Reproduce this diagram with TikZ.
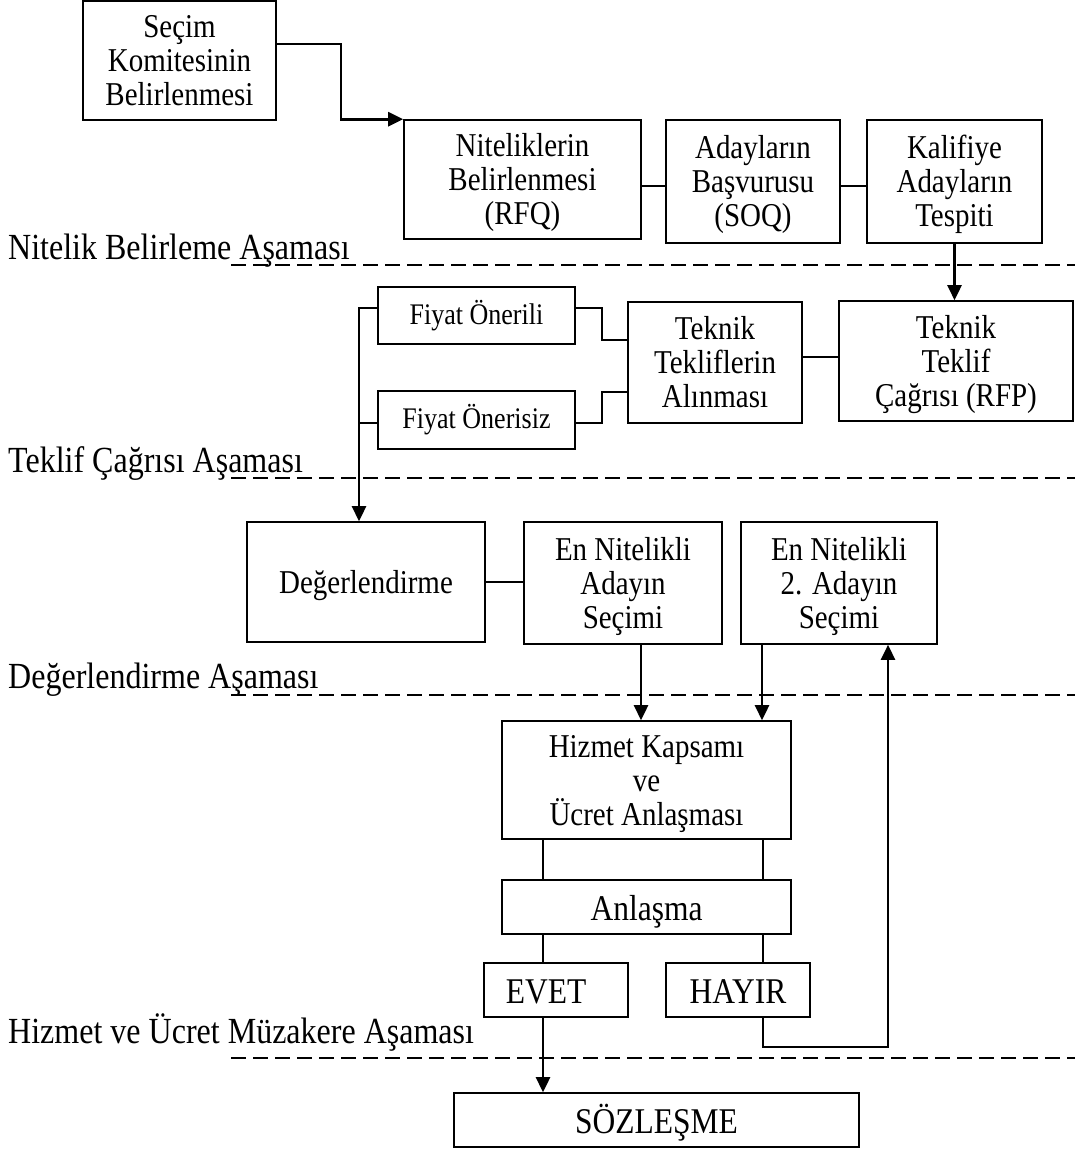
\documentclass[tikz,border=0pt]{standalone}
\usepackage{fontspec}
\setmainfont{Liberation Serif}[FakeStretch=0.87]
\usetikzlibrary{arrows.meta}
\newcommand\tstr{\rule{0pt}{30pt}}
\newcommand\bstr{\rule[-8pt]{0pt}{8pt}}
\newcommand\tbig{\rule{0pt}{34pt}}
\begin{document}
\begin{tikzpicture}[x=1pt,y=-1pt,
  box/.style={draw, line width=1.6pt, inner sep=0pt, align=center, font=\fontsize{33.3}{34}\selectfont},
  smallbox/.style={box, font=\fontsize{29.9}{30}\selectfont},
  bigbox/.style={box, font=\fontsize{36.2}{36}\selectfont},
  lnthin/.style={line width=1.6pt},
  lnmed/.style={line width=2pt},
  lnthick/.style={line width=2.6pt},
  arr/.style={lnthick, -{Triangle[length=15pt,width=14pt]}},
  phase/.style={dash pattern=on 15pt off 7pt, line width=2pt},
  lbl/.style={anchor=base west, inner sep=0pt, font=\fontsize{36.8}{38}\selectfont}
]
\useasboundingbox (0,0) rectangle (1075,1149);

% phase separators
\foreach \yy in {265,478,695,1058} \draw[phase] (231,\yy) -- (1075,\yy);

% phase labels
\node[lbl] (l1) at (8,259) {Nitelik Belirleme Aşaması};
\node[lbl] (l2) at (8,472) {Teklif Çağrısı Aşaması};
\node[lbl] (l3) at (8,688) {Değerlendirme Aşaması};
\node[lbl] (l4) at (8,1043) {Hizmet ve Ücret Müzakere Aşaması};

% boxes
\node[box, minimum width=193pt, minimum height=119pt] (A) at (179.5,60.5) {\tstr Seçim\\Komitesinin\\Belirlenmesi\bstr};
\node[box, minimum width=237pt, minimum height=119pt] (B) at (522.5,179.5) {\tstr Niteliklerin\\Belirlenmesi\\(RFQ)\bstr};
\node[box, minimum width=174pt, minimum height=123pt] (C) at (753,181.5) {\tstr Adayların\\Başvurusu\\(SOQ)\bstr};
\node[box, minimum width=175pt, minimum height=123pt] (D) at (954.5,181.5) {\tstr Kalifiye\\Adayların\\Tespiti\bstr};
\node[box, minimum width=234pt, minimum height=120pt] (E) at (956,361) {\tstr Teknik\\Teklif\\Çağrısı (RFP)\bstr};
\node[box, minimum width=174pt, minimum height=121pt] (F) at (715,362.5) {\tstr Teknik\\Tekliflerin\\Alınması\bstr};
\node[smallbox, minimum width=197pt, minimum height=57pt] (G) at (476.5,315.5) {Fiyat Önerili};
\node[smallbox, minimum width=197pt, minimum height=58pt] (H) at (476.5,420) {Fiyat Önerisiz};
\node[box, minimum width=238pt, minimum height=120pt] (N) at (366,582) {\tstr Değerlendirme\bstr};
\node[box, minimum width=198pt, minimum height=122pt] (O) at (623,583) {\tstr En Nitelikli\\Adayın\\Seçimi\bstr};
\node[box, minimum width=196pt, minimum height=122pt] (P) at (839,583) {\tstr En Nitelikli\\2. Adayın\\Seçimi\bstr};
\node[box, minimum width=289pt, minimum height=118pt] (I) at (646.5,780) {\tstr Hizmet Kapsamı\\ve\\Ücret Anlaşması\bstr};
\node[bigbox, minimum width=289pt, minimum height=54pt] (J) at (646.5,907) {\tbig Anlaşma\bstr};
\node[bigbox, minimum width=144pt, minimum height=54pt] (K) at (556,990) {\tbig EVET\kern20pt\bstr};
\node[bigbox, minimum width=144pt, minimum height=54pt] (L) at (738,990) {\tbig HAYIR\bstr};
\node[bigbox, minimum width=405pt, minimum height=54pt] (M) at (656.5,1120) {\tbig SÖZLEŞME\bstr};

% helper coordinates
\coordinate (a1) at ([yshift=16.5pt]A.east);
\coordinate (b1) at ([yshift=-6.5pt]B.east);
\coordinate (c1) at ([yshift=-4.5pt]C.east);
\coordinate (f1) at ([yshift=5.5pt]F.east);
\coordinate (g1) at ([yshift=7.5pt]G.east);
\coordinate (h1) at ([yshift=-3pt]H.east);
\coordinate (f2) at ([yshift=22.5pt]F.west);
\coordinate (f3) at ([yshift=-29.5pt]F.west);
\coordinate (g2) at ([yshift=7.5pt]G.west);
\coordinate (h2) at ([yshift=-3pt]H.west);
\coordinate (vx) at (359,0);
\coordinate (o1) at ([xshift=18pt]O.south);
\coordinate (p1) at ([xshift=-77pt]P.south);
\coordinate (p2) at ([xshift=49pt]P.south);
\coordinate (i1) at ([xshift=-103.5pt]I.south);
\coordinate (i2) at ([xshift=116.5pt]I.south);
\coordinate (k1) at ([xshift=-13pt]K.north);
\coordinate (k2) at ([xshift=-13pt]K.south);
\coordinate (l5) at ([xshift=25pt]L.north);
\coordinate (l6) at ([xshift=25pt]L.south);

% connectors
\draw[arr] (a1) -- ++(64,0) |- (B.north west);
\draw[lnthin] (b1) -- (b1 -| C.west);
\draw[lnthin] (c1) -- (c1 -| D.west);
\draw[arr] (D.south) -- (D.south |- E.north);
\draw[lnmed] (f1) -- (f1 -| E.west);
\draw[lnmed] (g1) -- ++(26,0) |- (f2);
\draw[lnmed] (h1) -- ++(26,0) |- (f3);
\draw[arr] (g2) -| (N.north -| vx);
\draw[lnthick] (h2) -- (h2 -| vx);
\draw[lnmed] (N.east) -- (N.east -| O.west);
\draw[arr] (o1) -- (o1 |- I.north);
\draw[arr] (p1) -- (p1 |- I.north);
\draw[lnthin] (i1) -- (i1 |- J.north);
\draw[lnthin] (i2) -- (i2 |- J.north);
\draw[lnthin] (k1) -- (k1 |- J.south);
\draw[lnthin] (l5) -- (l5 |- J.south);
\draw[arr] (k2) -- (k2 |- M.north);
\draw[arr] (l6) -- ++(0,29) -| (p2);
\end{tikzpicture}
\end{document}
